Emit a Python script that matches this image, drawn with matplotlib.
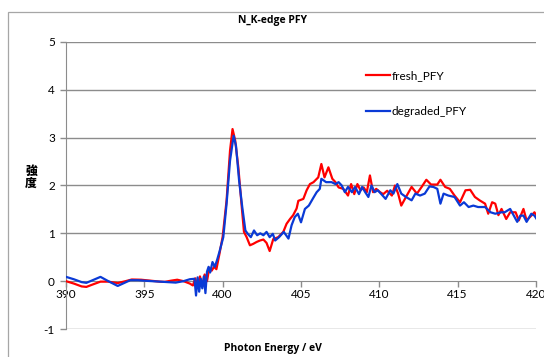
import matplotlib
matplotlib.use("Agg")
import matplotlib.pyplot as plt
from matplotlib.patches import Rectangle

plt.rcParams['font.family'] = ['Lato', 'Noto Sans CJK JP', 'DejaVu Sans']
plt.rcParams['axes.unicode_minus'] = False

fresh_E = [390.0, 390.5, 391.0, 391.3, 391.7, 392.2, 392.7, 393.3, 393.8, 394.2, 394.8, 395.4, 396.0, 396.3,
           396.7, 397.1, 397.5, 397.9, 398.1, 398.25, 398.4, 398.55, 398.7, 398.85, 399.0, 399.15, 399.3, 399.45,
           399.6, 399.8, 400.0, 400.25, 400.47, 400.63, 400.8, 401.0, 401.2, 401.36, 401.53, 401.74, 401.95,
           402.17, 402.38, 402.6, 402.8, 403.0, 403.23, 403.55, 403.87, 404.08, 404.3, 404.5, 404.72, 404.83,
           405.15, 405.36, 405.57, 405.8, 406.1, 406.3, 406.5, 406.75, 407.0, 407.2, 407.4, 407.7, 408.0, 408.2,
           408.4, 408.6, 408.8, 409.0, 409.2, 409.4, 409.6, 409.8, 410.05, 410.25, 410.5, 410.8, 411.0, 411.2,
           411.4, 411.7, 412.06, 412.4, 412.7, 413.0, 413.3, 413.7, 413.9, 414.2, 414.5, 414.8, 415.15, 415.5,
           415.8, 416.1, 416.4, 416.75, 416.95, 417.2, 417.4, 417.6, 417.8, 418.1, 418.35, 418.7, 418.9, 419.2,
           419.4, 419.7, 419.9, 420.1]
fresh_I = [0.0, -0.05, -0.11, -0.12, -0.07, -0.01, -0.01, -0.04, 0.0, 0.035, 0.03, 0.01, -0.01, -0.015,
           0.01, 0.03, 0.0, -0.05, -0.09, 0.06, -0.12, 0.1, -0.1, 0.14, 0.0, 0.28, 0.22, 0.3,
           0.25, 0.58, 0.93, 1.69, 2.73, 3.18, 2.94, 2.38, 1.62, 1.03, 0.92, 0.75, 0.78,
           0.82, 0.85, 0.87, 0.8, 0.63, 0.88, 0.92, 1.03, 1.2, 1.3, 1.38, 1.52, 1.68,
           1.72, 1.9, 2.03, 2.07, 2.17, 2.45, 2.17, 2.38, 2.14, 2.07, 1.96, 1.93, 1.79, 2.03,
           1.82, 2.03, 1.9, 1.96, 1.86, 2.21, 1.86, 1.93, 1.86, 1.82, 1.89, 1.79, 2.0, 1.83,
           1.58, 1.76, 1.97, 1.83, 1.97, 2.12, 2.02, 2.02, 2.12, 1.97, 1.93, 1.79, 1.65, 1.9,
           1.91, 1.76, 1.69, 1.62, 1.41, 1.65, 1.62, 1.38, 1.51, 1.3, 1.44, 1.44, 1.27, 1.51,
           1.27, 1.37, 1.44, 1.33]

degraded_E = [390.0, 390.5, 391.0, 391.3, 391.7, 392.2, 392.7, 393.3, 393.7, 394.1, 394.6, 395.0, 395.5, 396.0,
              396.5, 397.0, 397.5, 397.9, 398.2, 398.3, 398.4, 398.5, 398.6, 398.7, 398.8, 398.9, 399.0, 399.1,
              399.2, 399.35, 399.5, 399.65, 399.8, 400.04, 400.25, 400.47, 400.7, 400.85, 401.05, 401.25, 401.45,
              401.6, 401.8, 402.0, 402.2, 402.4, 402.6, 402.8, 403.0, 403.2, 403.35, 403.6, 403.9, 404.2, 404.4,
              404.6, 404.8, 405.0, 405.25, 405.5, 405.8, 406.0, 406.2, 406.3, 406.6, 406.95, 407.2, 407.4, 407.6,
              407.8, 408.0, 408.25, 408.45, 408.7, 408.9, 409.1, 409.3, 409.5, 409.7, 409.9, 410.1, 410.4, 410.7,
              410.9, 411.15, 411.4, 411.7, 412.06, 412.3, 412.6, 412.9, 413.2, 413.45, 413.7, 413.9, 414.1, 414.4,
              414.8, 415.15, 415.4, 415.7, 416.0, 416.3, 416.75, 417.1, 417.4, 417.8, 418.0, 418.35, 418.8, 419.0,
              419.2, 419.4, 419.7, 419.9, 420.1]
degraded_I = [0.09, 0.04, -0.02, -0.035, 0.02, 0.09, 0.0, -0.1, -0.04, 0.02, 0.02, 0.01, 0.0, -0.01,
              -0.02, -0.03, 0.0, 0.04, 0.05, -0.3, 0.08, -0.22, 0.05, -0.15, 0.1, -0.25, 0.2, 0.3,
              0.18, 0.4, 0.3, 0.45, 0.62, 0.92, 1.62, 2.52, 3.04, 2.83, 2.1, 1.55, 1.06,
              0.99, 0.92, 1.06, 0.96, 1.0, 0.96, 1.03, 0.92, 0.99, 0.85, 0.92, 1.03, 0.89, 1.17,
              1.34, 1.41, 1.23, 1.51, 1.58, 1.75, 1.86, 1.93, 2.14, 2.07, 2.07, 2.03, 2.07, 2.0,
              1.86, 1.97, 1.86, 1.97, 1.82, 1.97, 1.86, 1.76, 2.0, 1.86, 1.9, 1.83, 1.72, 1.9,
              1.83, 2.03, 1.83, 1.76, 1.69, 1.83, 1.79, 1.83, 1.98, 1.97, 1.93, 1.62, 1.83, 1.79,
              1.76, 1.58, 1.65, 1.55, 1.58, 1.55, 1.55, 1.44, 1.41, 1.44, 1.44, 1.51, 1.24, 1.37,
              1.37, 1.24, 1.41, 1.37, 1.27]

series_labels = ["fresh_PFY", "degraded_PFY"]
x_ticks = [390, 395, 400, 405, 410, 415, 420]
y_ticks = [-1, 0, 1, 2, 3, 4, 5]

W, H = 544, 357
fig = plt.figure(figsize=(W / 100, H / 100), dpi=100)
# chart area border
fig.patches.append(Rectangle((8 / W, -0.1), 1.2, (H - 12) / H + 0.1, transform=fig.transFigure,
                             fill=False, edgecolor='#a6a6a6', linewidth=0.9))

ax = fig.add_axes([66 / W, 1 - 329 / H, 470 / W, 287 / H])
ax.set_xlim(390, 420)
ax.set_ylim(-1, 5)

grid_c = '#8c8c8c'
for yv in y_ticks:
    if yv != 0:
        ax.axhline(yv, color=grid_c, linewidth=1.0, zorder=1)

ax.plot(fresh_E, fresh_I, color='#ff0000', linewidth=1.6, label=series_labels[0], zorder=3)
ax.plot(degraded_E, degraded_I, color='#0a3ad6', linewidth=1.6, label=series_labels[1], zorder=4)

for s in ['top', 'right']:
    ax.spines[s].set_visible(False)
ax.spines['bottom'].set_position(('data', 0))
ax.spines['bottom'].set_color(grid_c)
ax.spines['left'].set_color(grid_c)
ax.spines['bottom'].set_zorder(2)

ax.set_xticks(x_ticks)
ax.set_yticks(y_ticks)
ax.tick_params(axis='both', colors=grid_c, labelcolor='black', labelsize=8.5, length=4, width=1)
ax.tick_params(axis='x', pad=2)
ax.tick_params(axis='y', pad=4)

bold_fam = ['Open Sans', 'DejaVu Sans']
fig.text(272 / W, 1 - 21 / H, "N_K-edge PFY", ha='center', va='center', fontsize=7.5, fontweight='bold',
         family=bold_fam)
fig.text(273 / W, 1 - 349 / H, "Photon Energy / eV", ha='center', va='center', fontsize=7.5, fontweight='bold',
         family=bold_fam)
fig.text(31 / W, 1 - 177 / H, "強\n度", ha='center', va='center', fontsize=8.5, fontweight='heavy',
         family=['Noto Sans CJK JP'], linespacing=0.95)

ax.legend(loc='upper left', bbox_to_anchor=(366 / W, 1 - 70 / H), bbox_transform=fig.transFigure,
          frameon=False, fontsize=8.5, handlelength=2.0, handletextpad=0.2, labelspacing=2.1,
          borderaxespad=0, borderpad=0)

fig.savefig("out.png", dpi=100)
